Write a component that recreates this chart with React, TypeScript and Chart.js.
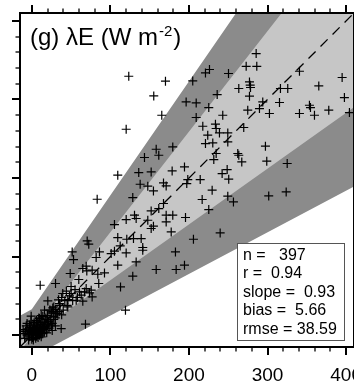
import { useEffect, useRef } from "react";
import { Chart, registerables } from "chart.js";

Chart.register(...registerables);

const FONT = "'Liberation Sans', Arial, Helvetica, sans-serif";
const DARK = "#8b8b8b";
const LIGHT = "#c6c6c6";

// Axis extent (same for observed and modelled fluxes)
const AXIS_MIN = -15;
const AXIS_MAX = 410;
const MAJOR_STEP = 100;
const MINOR_STEP = 20;
const LAST_TICK = 400;

// Agreement bands (outer = dark, inner = light), sampled at bandX
const bandX = [-15, 0, 410];
const outerUpper = [24.8, 33, 627.5];
const outerLower = [-50.1, -28, 189.3];
const innerUpper = [-7.8, 3, 527.8];
const innerLower = [-20.4, -1, 290.1];

// 1:1 reference line
const oneToOne = [AXIS_MIN, AXIS_MAX];

// Observed (x) vs simulated (y) latent heat flux, W m-2
const obsX = [
  123.4, 170.1, 155.2, 165.4, 285.5, 272.8, 286.3, 226.1, 221, 250.3,
  204.8, 277, 277.9, 263.4, 278.3, 316.4, 325.7, 340.6, 394.9, 365.2,
  235.9, 277, 397.8, 196.4, 209.2, 225.2, 293.9, 315.2, 353.3, 354.6,
  274.8, 289.7, 377.9, 243, 209.2, 302.4, 340.6, 359.7, 404.2,
  217.6, 233.7, 234.6, 269.7, 223.9, 238.8, 249.4, 221, 230.3, 249.4,
  297.3, 234.6, 231.6, 262.1, 263.4, 267.2, 299, 325, 194.3, 248.6,
  242.2, 250.6, 198.5, 214.3, 197.2, 229.5, 216.8, 249.4, 256.6, 301.5,
  323.7, 225.2, 195.6, 239.7, 205.7, 194.3,
  120.1, 158.3, 179.4, 143.4, 161.6, 136.1, 151.9, 178.6, 109.4, 137.9,
  147.6, 154.8, 167.6, 171, 128.5, 83.2, 167.6, 161.6, 151.9, 171,
  179.4, 130.7, 120.1, 132.8, 105.2, 147.6, 154.8, 151.9, 171, 177.4,
  109.4, 120.9, 129.4, 139.2, 70.5, 72.5, 112.5, 141.2,
  51.4, 53.1, 86.1, 101, 105.2, 81.9, 120.1, 141.2, 132.8, 182.8,
  69.2, 64.9, 70, 76.8, 92.5, 84, 109.4, 48.9, 59.8, 158.3,
  183.7, 128.5, 30.2, 10.7, 85.2, 69.2, 112.9, 39.4, 50.1, 60.7,
  67.1, 73.4, 62.9, 76.8, 45.8, 56.5, 64.9, 20.4, 26.7, 35.2,
  45.8, 119.2, 16.2, 24.7, 31, 20.4, -0.8, 9.8, 68.3, 37.4,
  24.7, 75.6,
  -10, -8, -6, -5, -4, -3, -2, -1, 0, 0,
  1, 1, 2, 2, 3, 3, 4, 4, 5, 5,
  6, 6, 7, 7, 8, 8, 9, 9, 10, 10,
  11, 11, 12, 12, 13, 14, 14, 15, 16, 16,
  17, 18, 19, 20, -7, -9, -11, -6, -3, -1,
  0, 2, 5, 8, 3, 6, 9, 12, -4, -2,
  1, 4, 7, 10, 13, 15, 18, 21, 22, 24,
  26, 28, 25, 30, 32, 20, 14, 35, 38, 27,
  18, 22, 25, 28, 30, 33, 36, 40, 42, 45,
  48, 52, 55, 58, 34, 28, 38, 44, 50, 23,
  16, 19, 26, 30, 12,
];
const simY = [
  329.5, 323.2, 304.5, 279.9, 358.4, 342.2, 342.2, 338.1, 333.7, 333,
  323.6, 322.3, 318.1, 313.9, 315.2, 313.9, 313.9, 335.9, 327.9, 317.2,
  306.2, 304.1, 302.4, 296.8, 295.6, 289.7, 296.8, 296.1, 292.6, 289.7,
  286.3, 288.4, 286.3, 279.9, 277, 282.1, 282.1, 279.9, 283.3,
  265.9, 268.5, 263, 264.3, 254.5, 257.4, 257.4, 243.9, 244.7, 245.9,
  240.5, 231.2, 223.5, 231.2, 229, 220.5, 221.4, 218.5, 214.1, 210.8,
  205.7, 198.5, 198.1, 198.1, 193, 184.5, 172.7, 176.9, 169.6, 177.2,
  182.3, 159.9, 149.8, 130.2, 122.1, 89.1,
  262.1, 236.6, 239.6, 226.1, 229, 207, 207.8, 209, 203.6, 192.1,
  189.6, 183.6, 193.8, 190, 175.2, 173, 167.6, 161.2, 158.1, 152.7,
  152.7, 152.7, 147.2, 148.5, 140.8, 146.3, 138.7, 135.8, 144.2, 131.4,
  124.3, 122.1, 123, 123, 120, 115.8, 113.6, 111.6,
  106, 96.3, 106, 103.9, 106.9, 98.9, 104.7, 108.1, 93.3, 106,
  87.8, 84.9, 81.8, 82.7, 79.3, 77.6, 89.1, 78.5, 70.9, 83.6,
  83.6, 75.1, 65.8, 63.6, 65.8, 59.4, 61.5, 53.1, 53.1, 55.1,
  55.1, 53.8, 50.9, 48.7, 45.4, 44.5, 43.3, 43.6, 34.7, 40.3,
  36, 31.8, 31.8, 29.6, 27.6, 25.4, 24.2, 21.2, 14, 8.5,
  14, 57.3,
  2, 5, 0, 8, 3, -2, 6, 10, 1, 4,
  7, -3, 2, 12, 5, 9, 0, 14, 3, 7,
  10, -1, 4, 16, 8, 2, 12, 5, 0, 9,
  14, 3, 6, 18, 10, 2, 13, 7, 16, 4,
  11, 20, 8, 14, 12, -4, 7, 15, 13, 18,
  -5, -6, -4, -3, 16, 19, 22, -2, -6, 1,
  3, 6, 1, 5, 4, 11, 13, 17, 9, 20,
  15, 24, 12, 22, 28, 25, 24, 30, 26, 30,
  22, 18, 28, 20, 33, 27, 38, 32, 44, 38,
  50, 44, 58, 48, 45, 36, 48, 56, 62, 32,
  10, 3, 6, 12, 25,
];

const statLines = ["n =   397", "r =  0.94", "slope =  0.93", "bias =  5.66", "rmse = 38.59"];

const toPoints = (xs: number[], ys: number[]) => xs.map((x, i) => ({ x, y: ys[i] }));

const frameAndLabels = {
  id: "frameAndLabels",
  afterDatasetsDraw(chart: any) {
    const { ctx, chartArea: a, scales } = chart;
    const xs = scales.x;
    const ys = scales.y;
    ctx.save();
    ctx.strokeStyle = "#000";
    const seg = (x1: number, y1: number, x2: number, y2: number) => {
      ctx.beginPath();
      ctx.moveTo(x1, y1);
      ctx.lineTo(x2, y2);
      ctx.stroke();
    };
    // outward tick marks on all four sides
    for (let v = 0; v <= LAST_TICK; v += MINOR_STEP) {
      const major = v % MAJOR_STEP === 0;
      const len = major ? 8 : 4.5;
      ctx.lineWidth = major ? 2 : 1.3;
      const px = Math.round(xs.getPixelForValue(v));
      const py = Math.round(ys.getPixelForValue(v));
      seg(px, a.top, px, a.top - len);
      seg(px, a.bottom, px, a.bottom + len);
      seg(a.left, py, a.left - len, py);
      seg(a.right, py, a.right + len, py);
    }
    // plot frame
    ctx.lineWidth = 2;
    ctx.strokeRect(a.left, a.top, a.right - a.left, a.bottom - a.top);

    // panel title
    ctx.fillStyle = "#000";
    ctx.textBaseline = "alphabetic";
    ctx.textAlign = "left";
    let tx = a.left + 10;
    const ty = a.top + 32;
    const main = "(g) λE (W m";
    ctx.font = `24px ${FONT}`;
    ctx.fillText(main, tx, ty);
    tx += ctx.measureText(main).width + 1;
    ctx.font = `15px ${FONT}`;
    ctx.fillText("-2", tx, ty - 9);
    tx += ctx.measureText("-2").width + 1;
    ctx.font = `24px ${FONT}`;
    ctx.fillText(")", tx, ty);

    // statistics box
    const bx = a.right - 117;
    const by = a.bottom - 104;
    const bw = 107;
    const bh = 97;
    ctx.fillStyle = "#fff";
    ctx.fillRect(bx, by, bw, bh);
    ctx.strokeStyle = "#555";
    ctx.lineWidth = 1;
    ctx.strokeRect(bx + 0.5, by + 0.5, bw, bh);
    ctx.fillStyle = "#000";
    ctx.font = `16px ${FONT}`;
    statLines.forEach((s, i) => {
      ctx.fillText(s, bx + 6, by + 17 + i * 18.4);
    });
    ctx.restore();
  },
};

export default function App() {
  const ref = useRef<HTMLCanvasElement | null>(null);

  useEffect(() => {
    const canvas = ref.current;
    if (!canvas) return;
    const hidden = "rgba(0,0,0,0)";
    const chart = new Chart(canvas, {
      type: "scatter",
      data: {
        datasets: [
          {
            type: "line",
            data: toPoints(bandX, outerUpper),
            fill: "+1",
            backgroundColor: DARK,
            borderColor: hidden,
            borderWidth: 0,
            pointRadius: 0,
            tension: 0,
            order: 5,
          },
          {
            type: "line",
            data: toPoints(bandX, outerLower),
            fill: false,
            borderColor: hidden,
            borderWidth: 0,
            pointRadius: 0,
            tension: 0,
            order: 6,
          },
          {
            type: "line",
            data: toPoints(bandX, innerUpper),
            fill: "+1",
            backgroundColor: LIGHT,
            borderColor: hidden,
            borderWidth: 0,
            pointRadius: 0,
            tension: 0,
            order: 3,
          },
          {
            type: "line",
            data: toPoints(bandX, innerLower),
            fill: false,
            borderColor: hidden,
            borderWidth: 0,
            pointRadius: 0,
            tension: 0,
            order: 4,
          },
          {
            type: "line",
            data: toPoints(oneToOne, oneToOne),
            fill: false,
            borderColor: "#000",
            borderWidth: 1.3,
            borderDash: [10, 7],
            pointRadius: 0,
            tension: 0,
            order: 2,
          },
          {
            type: "scatter",
            data: toPoints(obsX, simY),
            pointStyle: "cross",
            pointRadius: 4.5,
            borderColor: "#000",
            backgroundColor: "#000",
            borderWidth: 1.2,
            order: 1,
          },
        ],
      } as any,
      options: {
        responsive: false,
        animation: false,
        devicePixelRatio: 1,
        events: [],
        layout: { padding: { top: 13, left: 0, right: 0, bottom: 0 }, autoPadding: false } as any,
        plugins: { legend: { display: false }, tooltip: { enabled: false } },
        scales: {
          x: {
            type: "linear",
            min: AXIS_MIN,
            max: AXIS_MAX,
            grid: { display: false, drawTicks: false },
            border: { display: false },
            ticks: {
              stepSize: MAJOR_STEP,
              includeBounds: false,
              autoSkip: false,
              maxRotation: 0,
              padding: 17,
              color: "#000",
              font: { family: FONT, size: 19 },
            },
            afterFit: (s: any) => {
              s.height = 37;
              s.paddingLeft = 0;
              s.paddingRight = 0;
            },
          },
          y: {
            type: "linear",
            min: AXIS_MIN,
            max: AXIS_MAX,
            grid: { display: false, drawTicks: false },
            border: { display: false },
            ticks: { display: false, stepSize: MAJOR_STEP, includeBounds: false },
            afterFit: (s: any) => {
              s.width = 20;
              s.paddingTop = 0;
              s.paddingBottom = 0;
            },
          },
        } as any,
      },
      plugins: [frameAndLabels],
    });
    return () => chart.destroy();
  }, []);

  return (
    <div style={{ position: "fixed", left: 0, top: 0, width: 354, height: 384, background: "#fff" }}>
      <canvas ref={ref} width={354} height={384} style={{ display: "block" }} />
    </div>
  );
}
